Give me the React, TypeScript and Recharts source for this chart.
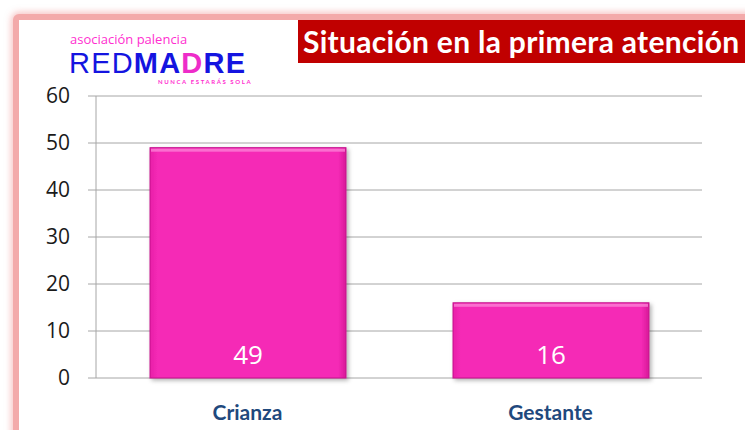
import { BarChart, Bar, XAxis, YAxis, CartesianGrid, LabelList } from 'recharts'

const categories = ['Crianza', 'Gestante']
const values = [49, 16]
const yTicks = [0, 10, 20, 30, 40, 50, 60]
const edgeTicks = [0, 1, 2]

const data = categories.map((name, i) => ({ name, value: values[i], slot: i + 0.5 }))

function BevelBar(props: any) {
  const { x, y, width, height } = props
  if (!height || height <= 0) return null
  return (
    <g filter="url(#barShadow)">
      <rect x={x} y={y} width={width} height={height} fill="url(#barFill)" stroke="#c4128c" strokeWidth={1} />
      <rect x={x + 1} y={y + 1} width={width - 2} height={3} fill="#fb7fd6" opacity={0.8} />
    </g>
  )
}

export default function App() {
  return (
    <div
      style={{
        position: 'fixed',
        left: 0,
        top: 0,
        width: 745,
        height: 430,
        background: '#fff',
        overflow: 'hidden',
        fontFamily: 'Lato, sans-serif',
      }}
    >
      <div
        style={{
          position: 'absolute',
          left: 13,
          top: 14,
          width: 760,
          height: 440,
          border: '6px solid #f3aaaa',
          borderRadius: 6,
          boxShadow: '0 0 6px 2px rgba(240,140,140,0.5)',
          boxSizing: 'border-box',
          background: '#fff',
        }}
      />
      <div
        style={{
          position: 'absolute',
          left: 298,
          top: 20,
          width: 460,
          height: 43,
          background: '#c00000',
          color: '#fff',
          fontWeight: 700,
          fontSize: 30,
          letterSpacing: 0.3,
          lineHeight: '43px',
          paddingLeft: 5,
          boxSizing: 'border-box',
          whiteSpace: 'nowrap',
        }}
      >
        Situación en la primera atención
      </div>
      <div
        style={{
          position: 'absolute',
          left: 70,
          top: 33,
          height: 13,
          lineHeight: '13px',
          color: '#ff2ed0',
          fontSize: 13,
          fontFamily: '"Liberation Sans Narrow", "Open Sans", sans-serif',
          whiteSpace: 'nowrap',
        }}
      >
        asociación palencia
      </div>
      <div
        style={{
          position: 'absolute',
          left: 69,
          top: 51,
          height: 24,
          lineHeight: '24px',
          fontSize: 29,
          color: '#1414e0',
          fontFamily: '"Liberation Sans", sans-serif',
          letterSpacing: 1.2,
          whiteSpace: 'nowrap',
        }}
      >
        <span>RED</span>
        <span style={{ fontWeight: 700 }}>
          MA<span style={{ color: '#ee2cc9' }}>D</span>RE
        </span>
      </div>
      <div
        style={{
          position: 'absolute',
          left: 158,
          top: 78,
          height: 7,
          lineHeight: '7px',
          color: '#ff2ed0',
          fontSize: 6,
          fontWeight: 700,
          letterSpacing: 1.6,
          whiteSpace: 'nowrap',
        }}
      >
        NUNCA ESTARÁS SOLA
      </div>
      <div style={{ position: 'absolute', left: 0, top: 0 }}>
        <BarChart
          width={745}
          height={430}
          data={data}
          margin={{ top: 96, right: 43, left: 0, bottom: 0 }}
          barSize={196}
        >
          <defs>
            <linearGradient id="barFill" x1="0" y1="0" x2="1" y2="0">
              <stop offset="0" stopColor="#e81ea8" />
              <stop offset="0.04" stopColor="#f52bb6" />
              <stop offset="0.96" stopColor="#f52bb6" />
              <stop offset="1" stopColor="#d81898" />
            </linearGradient>
            <filter id="barShadow" x="-10%" y="-10%" width="130%" height="130%">
              <feDropShadow dx={2} dy={2} stdDeviation={2} floodColor="#000" floodOpacity={0.3} />
            </filter>
          </defs>
          <CartesianGrid horizontal vertical={false} stroke="#a6a6a6" />
          <XAxis
            xAxisId="edges"
            type="number"
            dataKey="slot"
            domain={[0, 2]}
            ticks={edgeTicks}
            tick={false}
            tickSize={8}
            height={0}
            axisLine={{ stroke: '#a6a6a6' }}
            tickLine={{ stroke: '#a6a6a6' }}
          />
          <XAxis
            xAxisId="cat"
            dataKey="name"
            height={52}
            axisLine={false}
            tickLine={false}
            tickMargin={21}
            tick={{ fontSize: 21, fontWeight: 700, fill: '#1f497d', fontFamily: 'Lato, sans-serif' }}
          />
          <YAxis
            width={96}
            domain={[0, 60]}
            ticks={yTicks}
            interval={0}
            tickSize={8}
            tickMargin={18}
            axisLine={{ stroke: '#a6a6a6' }}
            tickLine={{ stroke: '#a6a6a6' }}
            tick={{ fontSize: 21, fill: '#1a1a1a', fontFamily: '"Open Sans", sans-serif' }}
          />
          <Bar xAxisId="cat" dataKey="value" shape={<BevelBar />} isAnimationActive={false}>
            <LabelList
              dataKey="value"
              position="insideBottom"
              offset={14}
              fill="#ffffff"
              fontSize={26}
              fontFamily='"Open Sans", sans-serif'
            />
          </Bar>
        </BarChart>
      </div>
    </div>
  )
}
